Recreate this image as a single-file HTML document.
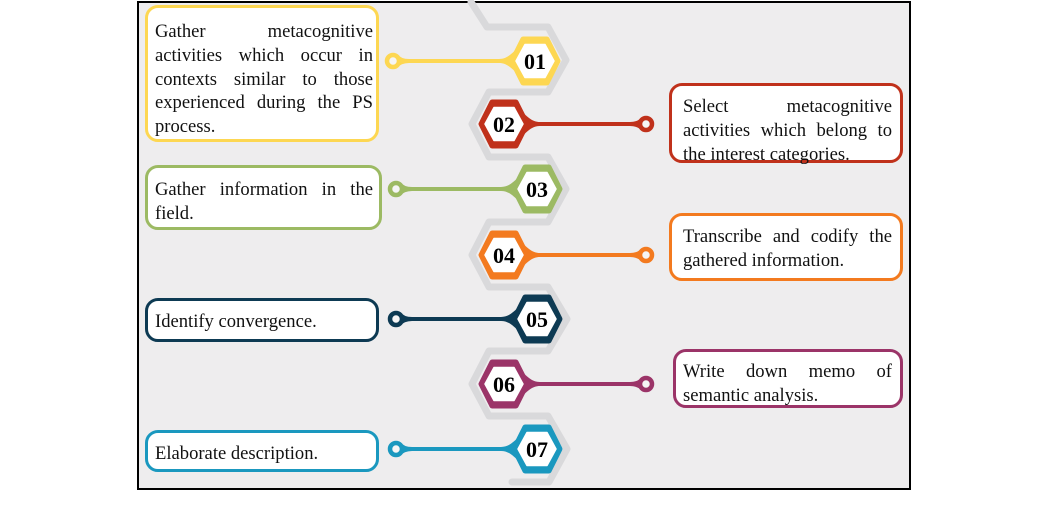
<!DOCTYPE html>
<html><head><meta charset="utf-8"><style>
html,body{margin:0;padding:0;background:#fff;}
body{width:1042px;height:531px;position:relative;overflow:hidden;font-family:"Liberation Serif",serif;}
.frame{position:absolute;left:137px;top:1px;width:774px;height:489px;box-sizing:border-box;border:2px solid #000;background:#eeedee;}
svg{position:absolute;left:0;top:0;}
.box{position:absolute;box-sizing:border-box;border:3px solid;border-radius:13px;background:#fff;}
.t{position:absolute;font-size:18.6px;line-height:23.8px;color:#111;}
.t span{display:block;}
.j{text-align:justify;text-align-last:justify;}
</style></head><body>
<div class="frame"></div>
<svg width="1042" height="531" viewBox="0 0 1042 531">
  <polyline points="471,2 487,27 548,27 566,60 548,92 489,92 472,124 489,157 548,157 566,189 548,222 489,222 472,255 489,287 548,287 567,319 548,351 489,351 472,384 489,416 548,416 567,449 549,482 512,482" fill="none" stroke="#d9d9db" stroke-width="7" stroke-linejoin="round" stroke-linecap="round"/>

  <!-- 01 yellow -->
  <g fill="#fdd752">
    <line x1="393" y1="61" x2="515" y2="61" stroke="#fdd752" stroke-width="4"/>
    <path d="M499,59 C507,59 511,54 518,48 L518,74 C511,68 507,63 499,63 Z"/>
    <path d="M397,54 Q401,59 409,59 L409,63 Q401,63 397,68 Z"/>
    <circle cx="393" cy="61" r="6" fill="#f5f5f5" stroke="#fdd752" stroke-width="4.5"/>
    <path d="M512,61 L523,39 L547,39 L558,61 L547,83 L523,83 Z" stroke="#fdd752" stroke-width="5" stroke-linejoin="round"/>
    <path d="M516,61 L525,44.5 L545,44.5 L554,61 L545,77.5 L525,77.5 Z" fill="#fff" stroke="#fff" stroke-width="1.5" stroke-linejoin="round"/>
  </g>
  <!-- 02 red -->
  <g fill="#c0311b">
    <line x1="524" y1="124" x2="646" y2="124" stroke="#c0311b" stroke-width="4"/>
    <path d="M540,122 C532,122 528,117 521,111 L521,137 C528,131 532,126 540,126 Z"/>
    <path d="M642,117 Q638,122 630,122 L630,126 Q638,126 642,131 Z"/>
    <circle cx="646" cy="124" r="6" fill="#f5f5f5" stroke="#c0311b" stroke-width="4.5"/>
    <path d="M481,124 L492,102 L516,102 L527,124 L516,146 L492,146 Z" stroke="#c0311b" stroke-width="5" stroke-linejoin="round"/>
    <path d="M485,124 L494,107.5 L514,107.5 L523,124 L514,140.5 L494,140.5 Z" fill="#fff" stroke="#fff" stroke-width="1.5" stroke-linejoin="round"/>
  </g>
  <!-- 03 green -->
  <g fill="#9cba63">
    <line x1="396" y1="189" x2="516" y2="189" stroke="#9cba63" stroke-width="4"/>
    <path d="M501,187 C509,187 513,182 520,176 L520,202 C513,196 509,191 501,191 Z"/>
    <path d="M400,182 Q404,187 412,187 L412,191 Q404,191 400,196 Z"/>
    <circle cx="396" cy="189" r="6" fill="#f5f5f5" stroke="#9cba63" stroke-width="4.5"/>
    <path d="M514,189 L525,167 L549,167 L560,189 L549,211 L525,211 Z" stroke="#9cba63" stroke-width="5" stroke-linejoin="round"/>
    <path d="M518,189 L527,172.5 L547,172.5 L556,189 L547,205.5 L527,205.5 Z" fill="#fff" stroke="#fff" stroke-width="1.5" stroke-linejoin="round"/>
  </g>
  <!-- 04 orange -->
  <g fill="#f37a1f">
    <line x1="524" y1="255" x2="646" y2="255" stroke="#f37a1f" stroke-width="4"/>
    <path d="M540,253 C532,253 528,248 521,242 L521,268 C528,262 532,257 540,257 Z"/>
    <path d="M642,248 Q638,253 630,253 L630,257 Q638,257 642,262 Z"/>
    <circle cx="646" cy="255" r="6" fill="#f5f5f5" stroke="#f37a1f" stroke-width="4.5"/>
    <path d="M481,255 L492,233 L516,233 L527,255 L516,277 L492,277 Z" stroke="#f37a1f" stroke-width="5" stroke-linejoin="round"/>
    <path d="M485,255 L494,238.5 L514,238.5 L523,255 L514,271.5 L494,271.5 Z" fill="#fff" stroke="#fff" stroke-width="1.5" stroke-linejoin="round"/>
  </g>
  <!-- 05 navy -->
  <g fill="#0d3a53">
    <line x1="396" y1="319" x2="517" y2="319" stroke="#0d3a53" stroke-width="4"/>
    <path d="M501,317 C509,317 513,312 520,306 L520,332 C513,326 509,321 501,321 Z"/>
    <path d="M400,312 Q404,317 412,317 L412,321 Q404,321 400,326 Z"/>
    <circle cx="396" cy="319" r="6" fill="#f5f5f5" stroke="#0d3a53" stroke-width="4.5"/>
    <path d="M514,319 L525,297 L549,297 L560,319 L549,341 L525,341 Z" stroke="#0d3a53" stroke-width="5" stroke-linejoin="round"/>
    <path d="M518,319 L527,302.5 L547,302.5 L556,319 L547,335.5 L527,335.5 Z" fill="#fff" stroke="#fff" stroke-width="1.5" stroke-linejoin="round"/>
  </g>
  <!-- 06 purple -->
  <g fill="#9b3468">
    <line x1="524" y1="384" x2="646" y2="384" stroke="#9b3468" stroke-width="4"/>
    <path d="M540,382 C532,382 528,377 521,371 L521,397 C528,391 532,386 540,386 Z"/>
    <path d="M642,377 Q638,382 630,382 L630,386 Q638,386 642,391 Z"/>
    <circle cx="646" cy="384" r="6" fill="#f5f5f5" stroke="#9b3468" stroke-width="4.5"/>
    <path d="M481,384 L492,362 L516,362 L527,384 L516,406 L492,406 Z" stroke="#9b3468" stroke-width="5" stroke-linejoin="round"/>
    <path d="M485,384 L494,367.5 L514,367.5 L523,384 L514,400.5 L494,400.5 Z" fill="#fff" stroke="#fff" stroke-width="1.5" stroke-linejoin="round"/>
  </g>
  <!-- 07 cyan -->
  <g fill="#1a98bf">
    <line x1="396" y1="449" x2="517" y2="449" stroke="#1a98bf" stroke-width="4"/>
    <path d="M501,447 C509,447 513,442 520,436 L520,462 C513,456 509,451 501,451 Z"/>
    <path d="M400,442 Q404,447 412,447 L412,451 Q404,451 400,456 Z"/>
    <circle cx="396" cy="449" r="6" fill="#f5f5f5" stroke="#1a98bf" stroke-width="4.5"/>
    <path d="M514,449 L525,427 L549,427 L560,449 L549,471 L525,471 Z" stroke="#1a98bf" stroke-width="5" stroke-linejoin="round"/>
    <path d="M518,449 L527,432.5 L547,432.5 L556,449 L547,465.5 L527,465.5 Z" fill="#fff" stroke="#fff" stroke-width="1.5" stroke-linejoin="round"/>
  </g>

  <g font-family="Liberation Serif, serif" font-weight="bold" font-size="22" fill="#000" text-anchor="middle">
    <text x="535" y="69">01</text>
    <text x="504" y="132">02</text>
    <text x="537" y="197">03</text>
    <text x="504" y="263">04</text>
    <text x="537" y="327">05</text>
    <text x="504" y="392">06</text>
    <text x="537" y="457">07</text>
  </g>
</svg>

<div class="box" style="left:145px;top:5px;width:234px;height:137px;border-color:#fdd752;"></div>
<div class="box" style="left:669px;top:83px;width:234px;height:80px;border-color:#c0311b;"></div>
<div class="box" style="left:145px;top:165px;width:237px;height:65px;border-color:#9cba63;"></div>
<div class="box" style="left:669px;top:213px;width:234px;height:68px;border-color:#f37a1f;"></div>
<div class="box" style="left:145px;top:298px;width:234px;height:44px;border-color:#0d3a53;"></div>
<div class="box" style="left:673px;top:349px;width:230px;height:59px;border-color:#9b3468;"></div>
<div class="box" style="left:145px;top:430px;width:234px;height:42px;border-color:#1a98bf;"></div>

<div class="t" style="left:155px;top:20px;width:218px;">
  <span class="j">Gather metacognitive</span>
  <span class="j">activities which occur in</span>
  <span class="j">contexts similar to those</span>
  <span class="j">experienced during the PS</span>
  <span>process.</span>
</div>
<div class="t" style="left:683px;top:95px;width:209px;">
  <span class="j">Select metacognitive</span>
  <span class="j">activities which belong to</span>
  <span>the interest categories.</span>
</div>
<div class="t" style="left:155px;top:178px;width:218px;">
  <span class="j">Gather information in the</span>
  <span>field.</span>
</div>
<div class="t" style="left:683px;top:225px;width:209px;">
  <span class="j">Transcribe and codify the</span>
  <span>gathered information.</span>
</div>
<div class="t" style="left:155px;top:310px;width:218px;">
  <span>Identify convergence.</span>
</div>
<div class="t" style="left:683px;top:360px;width:209px;">
  <span class="j">Write down memo of</span>
  <span>semantic analysis.</span>
</div>
<div class="t" style="left:155px;top:442px;width:218px;">
  <span>Elaborate description.</span>
</div>
</body></html>
